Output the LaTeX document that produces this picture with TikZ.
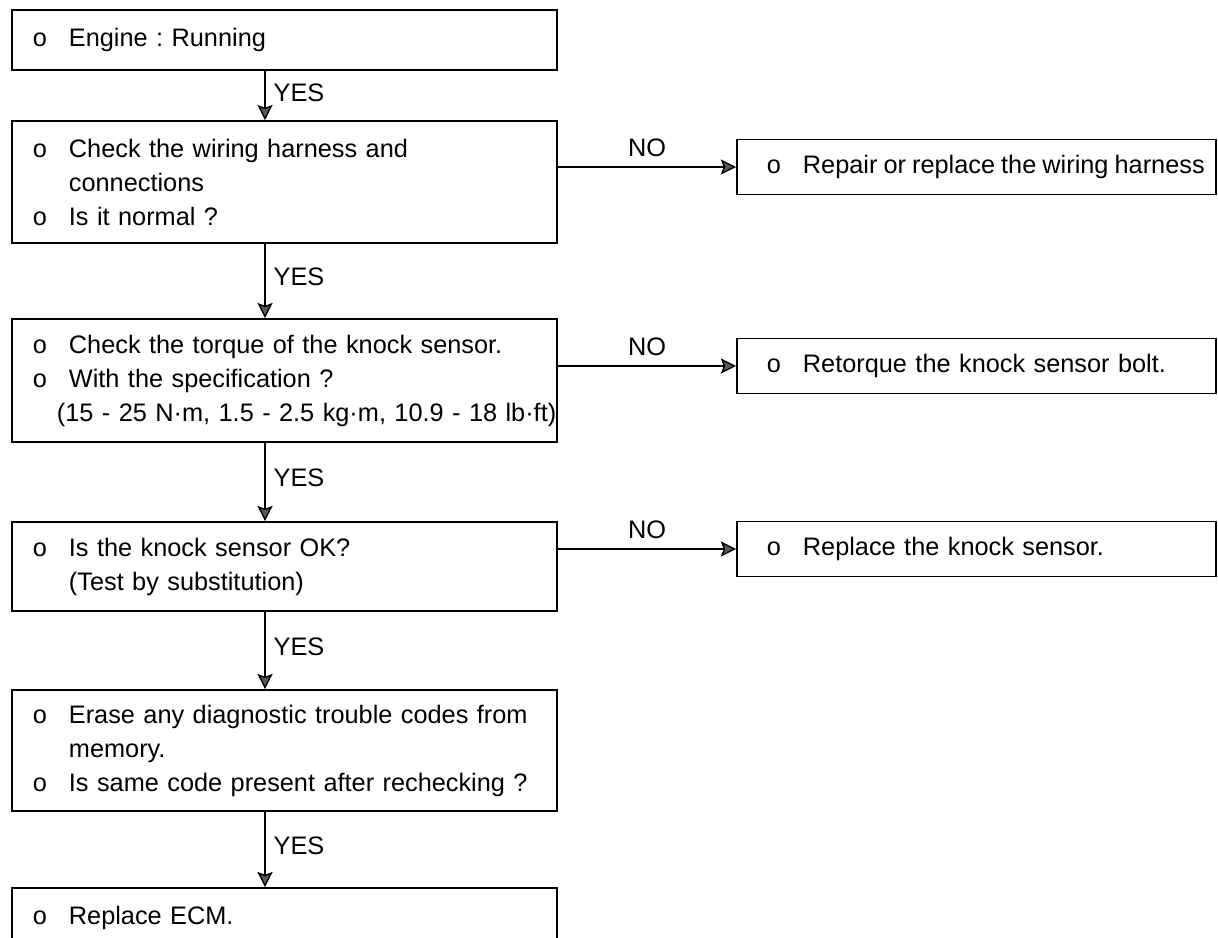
\documentclass[tikz,border=0pt]{standalone}
\usepackage{fontspec}
\setmainfont{Liberation Sans}
\usetikzlibrary{arrows.meta}

\tikzset{
  box/.style={draw, line width=1.2pt, inner xsep=0.525cm, inner ysep=0pt,
    text width=12.575cm, align=left},
  sidebox/.style={box, inner xsep=0.1cm, text width=11.775cm, minimum height=1.375cm,
    execute at begin node=\hspace*{0.65cm}},
  arr/.style={line width=1pt, -{Stealth[length=0.38cm, width=0.38cm, inset=0.07cm, fill=black!65]}},
  yes/.style={pos=0.45, right, inner xsep=0.2cm},
  no/.style={midway, above, inner sep=0.25cm},
}
\newcommand{\bul}{\makebox[0.9cm][l]{o}}
\newcommand{\indt}{\hspace*{0.9cm}}

\begin{document}
\frenchspacing
\begin{tikzpicture}[x=0.025cm, y=-0.025cm, font=\fontsize{18}{24.2}\selectfont\frenchspacing]
    \useasboundingbox (0,0) rectangle (1218,938);
    \clip (0,0) rectangle (1218,938);
    \coordinate (S) at (265,0);

    % main column
    \node[box, minimum height=1.5cm] (A) at (284.5,40) {\bul Engine : Running};
    \node[box, minimum height=3.05cm] (B) at (284.5,182)
        {\bul Check the wiring harness and\\ \indt connections\\ \bul Is it normal ?};
    \node[box, minimum height=3.075cm] (C) at (284.5,380.5)
        {\bul Check the torque of the knock sensor.\\ \bul With the specification ?\\
         \hspace*{0.6cm}\mbox{(15 - 25 N·m, 1.5 - 2.5 kg·m, 10.9 - 18 lb·ft)}};
    \node[box, minimum height=2.225cm] (D) at (284.5,566.5)
        {\bul Is the knock sensor OK?\\ \indt (Test by substitution)};
    \node[box, minimum height=3.025cm] (E) at (284.5,750.5)
        {\bul Erase any diagnostic trouble codes from\\ \indt memory.\\
         \bul Is same code present after rechecking ?};
    \node[box, minimum height=1.5cm] (F) at (284.5,918) {\bul Replace ECM.};

    % repairs on the right
    \node[sidebox] (G) at (976.5,167)
        {\bul\mbox{\spaceskip=0.24em\relax Repair or replace the wiring harness}};
    \node[sidebox] (H) at (976.5,366) {\bul Retorque the knock sensor bolt.};
    \node[sidebox] (I) at (976.5,549) {\bul Replace the knock sensor.};

    \draw[arr] (A.south -| S) -- (B.north -| S) node[yes] {YES};
    \draw[arr] (B.south -| S) -- (C.north -| S) node[yes] {YES};
    \draw[arr] (C.south -| S) -- (D.north -| S) node[yes] {YES};
    \draw[arr] (D.south -| S) -- (E.north -| S) node[yes] {YES};
    \draw[arr] (E.south -| S) -- (F.north -| S) node[yes] {YES};

    \draw[arr] (B.east |- G.west) -- (G.west) node[no] {NO};
    \draw[arr] (C.east |- H.west) -- (H.west) node[no] {NO};
    \draw[arr] (D.east |- I.west) -- (I.west) node[no] {NO};
\end{tikzpicture}
\end{document}
